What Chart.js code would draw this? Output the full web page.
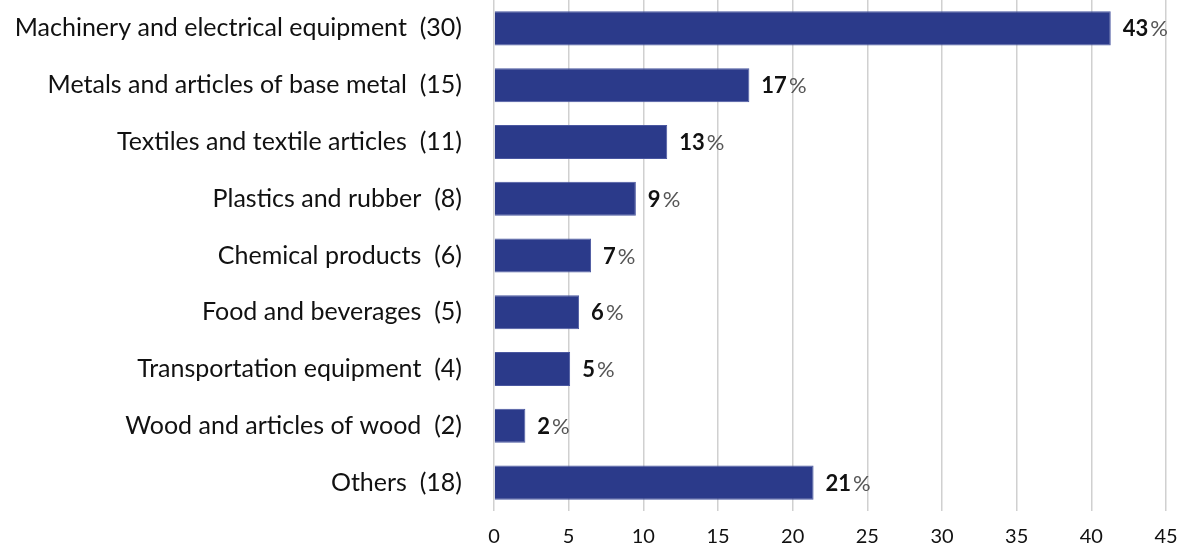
<!DOCTYPE html>
<html>
<head>
<meta charset="utf-8">
<script src="https://cdn.jsdelivr.net/npm/chart.js@4"></script>
<style>
  html, body { margin: 0; padding: 0; background: #fff; }
  #wrap { width: 1186px; height: 550px; }
</style>
</head>
<body>
<div id="wrap"><canvas id="miGrafico"></canvas></div>
<script>
const categorias = [
  'Machinery and electrical equipment  (30)',
  'Metals and articles of base metal  (15)',
  'Textiles and textile articles  (11)',
  'Plastics and rubber  (8)',
  'Chemical products  (6)',
  'Food and beverages  (5)',
  'Transportation equipment  (4)',
  'Wood and articles of wood  (2)',
  'Others  (18)'
];
const valores = [41.3, 17.1, 11.6, 9.5, 6.5, 5.7, 5.1, 2.1, 21.4];
const porcentajes = [43, 17, 13, 9, 7, 6, 5, 2, 21];
const ticksX = [0, 5, 10, 15, 20, 25, 30, 35, 40, 45];

const fuente = 'Lato, "Open Sans", sans-serif';

// etiquetas de porcentaje al final de cada barra
const etiquetas = {
  id: 'etiquetas',
  afterDatasetsDraw(chart) {
    const c = chart.ctx;
    const meta = chart.getDatasetMeta(0);
    c.save();
    c.textBaseline = 'middle';
    meta.data.forEach((bar, i) => {
      const x = bar.x + 12;
      const y = bar.y + 1;
      c.font = 'bold 22px ' + fuente;
      c.fillStyle = '#111';
      const num = String(porcentajes[i]);
      c.fillText(num, x, y);
      const w = c.measureText(num).width;
      c.font = '22px ' + fuente;
      c.fillStyle = '#555';
      c.fillText('%', x + w + 2, y);
    });
    c.restore();
  }
};

const ctx = document.getElementById('miGrafico').getContext('2d');
const miGrafico = new Chart(ctx, {
  type: 'bar',
  data: {
    labels: categorias,
    datasets: [{
      data: valores,
      backgroundColor: '#2b3a8a',
      borderColor: '#4a57a0',
      borderWidth: 1,
      categoryPercentage: 0.6,
      barPercentage: 1
    }]
  },
  options: {
    indexAxis: 'y',
    responsive: true,
    maintainAspectRatio: false,
    animation: false,
    layout: { padding: { top: 0, right: 0, bottom: 0, left: 14 } },
    plugins: {
      legend: { display: false },
      tooltip: { enabled: false }
    },
    scales: {
      x: {
        min: 0,
        max: 45,
        afterBuildTicks: (axis) => { axis.ticks = ticksX.map(v => ({ value: v })); },
        afterFit: (axis) => { axis.height = 39; axis.paddingRight = 20; axis.paddingLeft = 0; },
        grid: { color: '#d0d0d0', lineWidth: 1.5, drawTicks: false },
        border: { display: false },
        ticks: {
          color: '#111',
          padding: 14,
          font: { family: fuente, size: 20 }
        }
      },
      y: {
        afterFit: (axis) => { axis.paddingTop = 0; axis.paddingBottom = 0; axis.width = 480; },
        grid: { display: false, drawTicks: false },
        border: { display: false },
        ticks: {
          color: '#111',
          padding: 32,
          font: { family: fuente, size: 25 }
        }
      }
    }
  },
  plugins: [etiquetas]
});
</script>
</body>
</html>
